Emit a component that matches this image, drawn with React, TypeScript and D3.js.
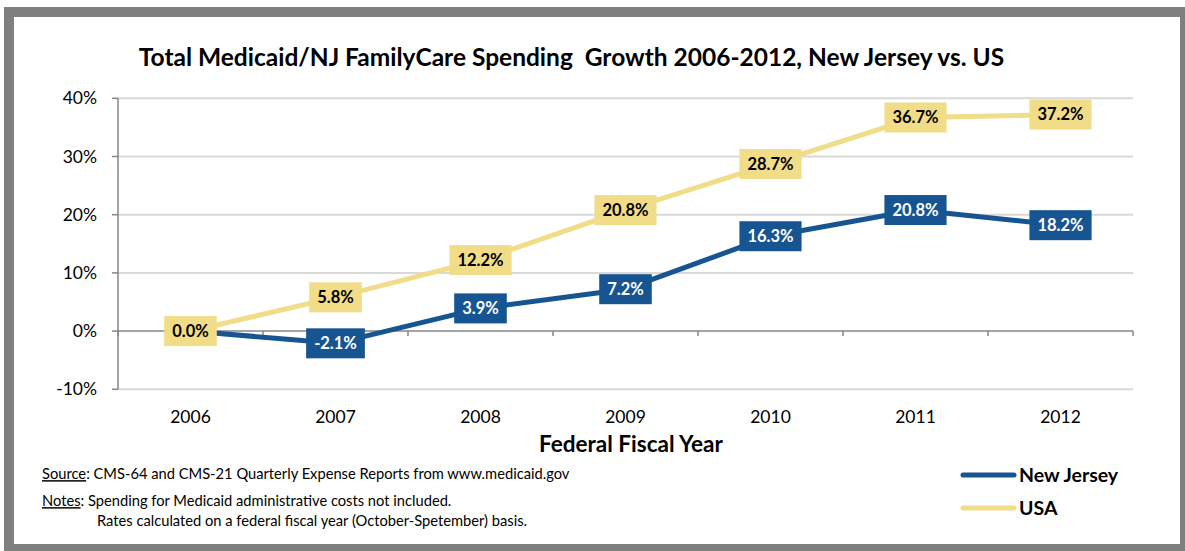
import React, { useEffect, useRef } from "react";
import * as d3 from "d3";

const years = ["2006", "2007", "2008", "2009", "2010", "2011", "2012"];
const njValues = [0.0, -2.1, 3.9, 7.2, 16.3, 20.8, 18.2];
const usaValues = [0.0, 5.8, 12.2, 20.8, 28.7, 36.7, 37.2];
const yTicks = [-10, 0, 10, 20, 30, 40];
const njShowLabel = [false, true, true, true, true, true, true];
const usaShowLabel = [true, true, true, true, true, true, true];

const BLUE = "#175592";
const YELLOW = "#f1dd87";
const FONT = "Lato, 'Open Sans', sans-serif";

export default function App() {
  const ref = useRef<SVGSVGElement>(null);

  useEffect(() => {
    const svg = d3.select(ref.current);
    svg.selectAll("*").remove();

    const left = 118, right = 1133, top = 98.3, bottom = 389.3;
    const x = d3.scaleBand().domain(years).range([left, right]).padding(0);
    const y = d3.scaleLinear().domain([-10, 40]).range([bottom, top]);
    const cx = (yr: string) => (x(yr) as number) + x.bandwidth() / 2;

    svg.append("rect").attr("x", 0).attr("y", 0).attr("width", 1185).attr("height", 551).attr("fill", "#fff");
    svg.append("rect").attr("x", 9).attr("y", 12).attr("width", 1176).attr("height", 537)
      .attr("fill", "none").attr("stroke", "#7f7f7f").attr("stroke-width", 10);

    // title
    svg.append("text").attr("x", 571.5).attr("y", 66).attr("text-anchor", "middle")
      .attr("font-family", FONT).attr("font-weight", "bold").attr("font-size", 24.5)
      .attr("fill", "#000").attr("xml:space", "preserve")
      .text("Total Medicaid/NJ FamilyCare Spending  Growth 2006-2012, New Jersey vs. US");

    // gridlines
    svg.append("g").selectAll("line").data(yTicks.filter(t => t !== 0)).join("line")
      .attr("x1", left).attr("x2", right).attr("y1", d => y(d)).attr("y2", d => y(d))
      .attr("stroke", "#d9d9d9").attr("stroke-width", 2);

    // y axis
    svg.append("line").attr("x1", left).attr("x2", left).attr("y1", top).attr("y2", bottom)
      .attr("stroke", "#868686").attr("stroke-width", 1.5);
    svg.append("g").selectAll("line").data(yTicks).join("line")
      .attr("x1", left - 6).attr("x2", left).attr("y1", d => y(d)).attr("y2", d => y(d))
      .attr("stroke", "#868686").attr("stroke-width", 1.5);
    svg.append("g").selectAll("text").data(yTicks).join("text")
      .attr("x", 97).attr("y", d => y(d)).attr("dy", "0.35em").attr("text-anchor", "end")
      .attr("font-family", FONT).attr("font-size", 17.5).attr("fill", "#000")
      .text(d => `${d}%`);

    // x axis at 0
    svg.append("line").attr("x1", left).attr("x2", right).attr("y1", y(0)).attr("y2", y(0))
      .attr("stroke", "#868686").attr("stroke-width", 1.5);
    const bounds = years.map(yr => x(yr) as number).concat([right]);
    svg.append("g").selectAll("line").data(bounds).join("line")
      .attr("x1", d => d).attr("x2", d => d).attr("y1", y(0)).attr("y2", y(0) + 5)
      .attr("stroke", "#868686").attr("stroke-width", 1.5);
    svg.append("g").selectAll("text").data(years).join("text")
      .attr("x", d => cx(d)).attr("y", 417).attr("dy", "0.35em").attr("text-anchor", "middle")
      .attr("font-family", FONT).attr("font-size", 17.5).attr("fill", "#000").text(d => d);
    svg.append("text").attr("x", 631).attr("y", 444).attr("dy", "0.35em").attr("text-anchor", "middle")
      .attr("font-family", FONT).attr("font-weight", "bold").attr("font-size", 22.5).attr("fill", "#000")
      .text("Federal Fiscal Year");

    // lines
    const line = d3.line<number>().x((_, i) => cx(years[i])).y(d => y(d));
    svg.append("path").datum(usaValues).attr("d", line).attr("fill", "none")
      .attr("stroke", YELLOW).attr("stroke-width", 5).attr("stroke-linejoin", "round");
    svg.append("path").datum(njValues).attr("d", line).attr("fill", "none")
      .attr("stroke", BLUE).attr("stroke-width", 5).attr("stroke-linejoin", "round");

    const drawLabels = (vals: number[], show: boolean[], fill: string, color: string) => {
      vals.forEach((v, i) => {
        if (!show[i]) return;
        const g = svg.append("g");
        const px = cx(years[i]), py = y(v);
        const rect = g.append("rect").attr("fill", fill);
        const t = g.append("text").attr("x", px).attr("y", py).attr("dy", "0.35em")
          .attr("text-anchor", "middle").attr("font-family", FONT).attr("font-weight", "bold")
          .attr("font-size", 16.5).attr("fill", color).text(`${v.toFixed(1)}%`);
        const w = (t.node() as SVGTextElement).getComputedTextLength();
        const bw = w + 16, bh = 30;
        rect.attr("x", px - bw / 2).attr("y", py - bh / 2).attr("width", bw).attr("height", bh);
      });
    };
    drawLabels(njValues, njShowLabel, BLUE, "#fff");
    drawLabels(usaValues, usaShowLabel, YELLOW, "#000");

    // footnotes
    const fn = svg.append("g").attr("font-family", FONT).attr("font-size", 14.7).attr("fill", "#000");
    const t1 = fn.append("text").attr("x", 42).attr("y", 474).attr("dy", "0.35em");
    t1.append("tspan").attr("text-decoration", "underline").text("Source");
    t1.append("tspan").text(": CMS-64 and CMS-21 Quarterly Expense Reports from www.medicaid.gov");
    const t2 = fn.append("text").attr("x", 42).attr("y", 501).attr("dy", "0.35em");
    t2.append("tspan").attr("text-decoration", "underline").text("Notes");
    t2.append("tspan").text(": Spending for Medicaid administrative costs not included.");
    fn.append("text").attr("x", 97).attr("y", 521).attr("dy", "0.35em")
      .text("Rates calculated on a federal fiscal year (October-Spetember) basis.");

    // legend
    const leg = [
      { name: "New Jersey", color: BLUE, y: 475 },
      { name: "USA", color: YELLOW, y: 508 },
    ];
    leg.forEach(l => {
      svg.append("line").attr("x1", 963).attr("x2", 1014).attr("y1", l.y).attr("y2", l.y)
        .attr("stroke", l.color).attr("stroke-width", 5).attr("stroke-linecap", "round");
      svg.append("text").attr("x", 1019).attr("y", l.y).attr("dy", "0.35em")
        .attr("font-family", FONT).attr("font-weight", "bold").attr("font-size", 19.5)
        .attr("fill", "#000").text(l.name);
    });
  }, []);

  return (
    <svg ref={ref} width={1185} height={551}
      style={{ position: "absolute", left: 0, top: 0, display: "block" }} />
  );
}
